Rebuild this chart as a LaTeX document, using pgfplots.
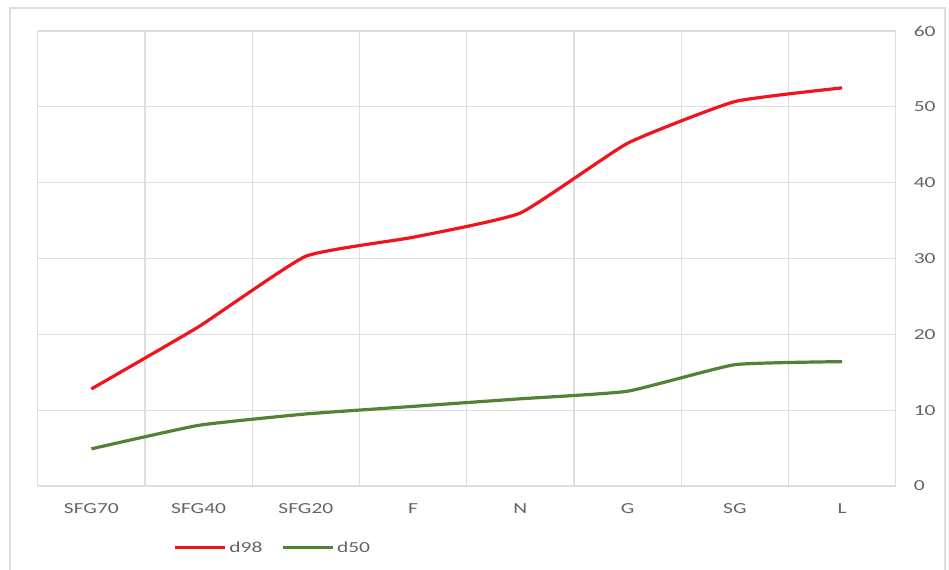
\documentclass[border=0pt]{standalone}
\usepackage{pgfplots}
\pgfplotsset{compat=1.18}
\usepackage{fontspec}
\setmainfont{Carlito}[FakeStretch=1.4]
\definecolor{txt}{RGB}{100,100,100}
\definecolor{gridc}{RGB}{222,222,222}
\definecolor{redl}{RGB}{240,20,30}
\definecolor{greenl}{RGB}{84,130,53}
\begin{document}
\begin{tikzpicture}
\useasboundingbox (0pt,0pt) rectangle (711.75pt,426.75pt);
\draw[gridc, line width=0.8pt] (7.5pt,-10pt) rectangle (708.75pt,420.75pt);
\begin{axis}[
  at={(28.3pt,62.25pt)}, anchor=south west,
  scale only axis, width=643.5pt, height=341.25pt,
  xmin=-0.5, xmax=7.5, ymin=0, ymax=60,
  axis line style={draw=none},
  xtick={0,1,2,3,4,5,6,7},
  xticklabels={SFG70,SFG40,SFG20,F,N,G,SG,L},
  minor xtick={-0.5,0.5,1.5,2.5,3.5,4.5,5.5,6.5,7.5},
  ytick={0,10,20,30,40,50,60},
  yticklabel pos=right,
  ymajorgrids, xminorgrids,
  grid style={gridc, line width=0.8pt},
  minor grid style={gridc, line width=0.8pt},
  major tick length=0pt, minor tick length=0pt,
  tick label style={font=\fontsize{11.5}{13}\selectfont, text=txt},
  /pgf/number format/assume math mode=true,
  xticklabel style={yshift=-10pt},
  yticklabel style={xshift=10pt},
  legend style={draw=none, fill=none, inner sep=0pt, anchor=west, at={(0.158,-0.136)},
    font=\fontsize{11.5}{13}\selectfont, text=txt,
    /tikz/every even column/.append style={column sep=12pt}},
  legend columns=2,
  legend image code/.code={\draw[#1] (0pt,0pt) -- (37.5pt,0pt);},
]
\addplot[redl, line width=2.4pt, smooth, tension=0.25] coordinates {
(0,12.8) (1,21.0) (2,30.3) (3,32.8) (4,36.0) (5,45.2) (6,50.7) (7,52.5)};
\addlegendentry{d98}
\addplot[greenl, line width=2.4pt, smooth, tension=0.25] coordinates {
(0,4.9) (1,8.0) (2,9.5) (3,10.5) (4,11.5) (5,12.5) (6,16.0) (7,16.4)};
\addlegendentry{d50}
\end{axis}
\end{tikzpicture}
\end{document}
